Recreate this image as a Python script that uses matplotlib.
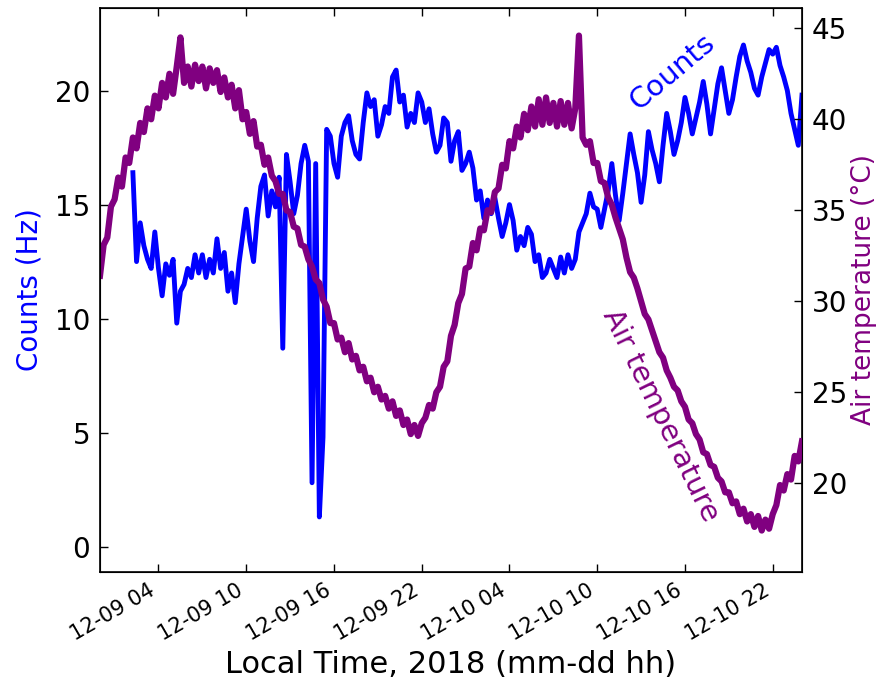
import numpy as np
import pandas as pd
import matplotlib.pyplot as plt
import matplotlib.dates as mdates

# quarter-hour samples starting 2018-12-09 00:00 local time
t0 = pd.Timestamp('2018-12-09 00:00')
step_h = 0.25

# air temperature (deg C), 4 values per hour
temp = [
    31.4, 33.1, 33.5, 35.2,
    35.6, 36.8, 36.3, 37.9,
    37.6, 39.0, 38.4, 39.8,
    39.3, 40.6, 40.0, 41.3,
    40.6, 42.0, 41.2, 42.5,
    41.4, 42.9, 44.5, 42.0,
    42.9, 41.8, 43.0, 42.1,
    42.9, 41.7, 42.8, 42.0,
    42.7, 41.5, 42.3, 41.2,
    41.9, 40.6, 41.6, 40.0,
    40.4, 39.2, 39.9, 38.5,
    38.6, 37.5, 37.9, 36.9,
    36.6, 35.9, 35.9, 35.0,
    34.9, 34.1, 34.0, 33.1,
    33.0, 32.3, 31.9, 31.2,
    31.0, 30.1, 29.7, 28.8,
    28.8, 27.9, 28.0, 27.2,
    27.7, 26.8, 27.0, 26.2,
    26.4, 25.6, 25.8, 25.0,
    25.3, 24.6, 24.8, 24.1,
    24.5, 23.7, 24.0, 23.2,
    23.5, 22.7, 23.2, 22.6,
    23.3, 23.6, 24.3, 24.1,
    25.0, 25.3, 26.4, 26.7,
    28.1, 28.7, 29.9, 30.4,
    31.8, 31.9, 33.2, 32.8,
    34.0, 33.9, 35.0, 34.9,
    36.0, 36.2, 37.5, 37.3,
    38.8, 38.4, 39.6, 39.0,
    40.3, 39.4, 40.7, 39.6,
    41.1, 39.7, 41.2, 39.8,
    40.9, 39.6, 41.0, 39.7,
    40.9, 39.5, 40.6, 44.6,
    39.0, 38.6, 38.8, 37.6,
    37.6, 36.6, 36.5, 35.7,
    35.3, 34.6, 34.0, 33.4,
    32.4, 31.6, 31.3, 30.7,
    30.0, 29.3, 29.0, 28.4,
    27.8, 27.2, 26.9, 26.2,
    25.8, 25.3, 25.1, 24.5,
    24.2, 23.5, 23.3, 22.7,
    22.4, 21.7, 21.6, 21.0,
    20.9, 20.3, 20.1, 19.5,
    19.5, 18.9, 19.0, 18.3,
    18.6, 17.9, 18.3, 17.6,
    18.2, 17.4, 18.0, 17.5,
    18.3, 18.8, 19.9, 19.6,
    20.5, 20.2, 21.5, 21.2,
    22.3,
]

# detector counts (Hz), logging starts at 02:15
counts_start_h = 2.25
counts = [
    16.4, 12.5, 14.2,
    13.2, 12.6, 12.2, 13.8,
    12.2, 11.0, 12.4, 11.9,
    12.6, 9.8, 11.2, 11.5,
    12.2, 11.8, 12.8, 12.0,
    12.8, 11.8, 12.6, 12.0,
    13.5, 12.2, 12.9, 11.2,
    12.0, 10.7, 12.4, 13.6,
    14.8, 13.4, 12.5, 14.4,
    15.8, 16.3, 14.5, 15.6,
    14.9, 16.2, 8.7, 17.2,
    16.0, 14.6, 15.4, 16.8,
    17.6, 16.9, 2.8, 16.8,
    1.3, 4.8, 18.3, 18.0,
    16.8, 16.2, 18.0, 18.6,
    18.9, 17.8, 17.2, 17.0,
    18.6, 19.9, 19.3, 19.6,
    18.0, 18.5, 19.3, 19.0,
    20.6, 20.9, 19.5, 19.8,
    18.4, 19.0, 18.6, 19.9,
    19.5, 18.6, 19.2, 18.1,
    17.3, 17.6, 18.8, 18.6,
    16.9, 17.8, 18.2, 16.5,
    16.8, 17.3, 16.6, 15.2,
    15.6, 14.4, 15.2, 14.6,
    15.3, 14.4, 13.6, 14.2,
    15.0, 14.3, 13.0, 13.6,
    13.2, 14.0, 13.7, 12.5,
    12.8, 11.8, 12.0, 12.6,
    12.2, 11.8, 12.7, 12.0,
    12.8, 12.2, 12.6, 13.8,
    14.2, 14.6, 15.5, 14.9,
    14.8, 14.0, 14.8, 15.6,
    16.8, 15.4, 14.3, 15.5,
    16.8, 18.1, 17.2, 16.4,
    15.1, 16.3, 18.2, 17.4,
    16.8, 16.0, 17.6, 19.0,
    18.2, 17.2, 17.8, 18.6,
    19.7, 19.0, 18.1, 18.8,
    19.5, 20.4, 19.4, 18.1,
    19.2, 20.3, 21.0, 20.0,
    19.0, 19.6, 20.6, 21.5,
    22.0, 21.3, 20.8, 20.1,
    19.8, 20.6, 21.2, 21.8,
    21.6, 21.9, 21.1, 20.6,
    20.0, 19.0, 18.3, 17.6,
    19.8,
]

t_temp = t0 + pd.to_timedelta(np.arange(len(temp)) * step_h, unit='h')
t_counts = t0 + pd.to_timedelta(counts_start_h + np.arange(len(counts)) * step_h, unit='h')

plt.rcParams['font.family'] = 'DejaVu Sans'

fig = plt.figure(figsize=(8.84, 6.91), dpi=100)
ax = fig.add_axes([0.1131, 0.1727, 0.7941, 0.8153])
ax2 = ax.twinx()

ax.plot(t_counts, counts, color='blue', lw=3.5)
ax2.plot(t_temp, temp, color='purple', lw=4.5)

ax.set_xlim(t0, t0 + pd.Timedelta(hours=48))
ax.set_ylim(-1.1, 23.61)
ax2.set_ylim(15.14, 46.1)
ax.set_yticks([0, 5, 10, 15, 20])
ax2.set_yticks([20, 25, 30, 35, 40, 45])

ax.xaxis.set_major_locator(mdates.HourLocator(byhour=[4, 10, 16, 22]))
ax.xaxis.set_major_formatter(mdates.DateFormatter('%m-%d %H'))

ax.tick_params(axis='x', direction='in', top=True, length=6, width=1,
               labelsize=15, pad=6)
ax.tick_params(axis='y', direction='in', length=6, width=1, labelsize=20, pad=7)
ax2.tick_params(axis='y', direction='in', length=6, width=1, labelsize=20, pad=7)
for lab in ax.get_xticklabels():
    lab.set_rotation(30)
    lab.set_ha('right')

for sp in ax.spines.values():
    sp.set_linewidth(1.2)

ax.set_xlabel('Local Time, 2018 (mm-dd hh)', fontsize=22)
ax.set_ylabel('Counts (Hz)', color='blue', fontsize=20, labelpad=8)
ax2.set_ylabel('Air temperature (°C)', color='purple', fontsize=19, labelpad=3)

ax.text(t0 + pd.Timedelta(hours=39.1), 20.8, 'Counts', color='blue',
        fontsize=21, rotation=40, ha='center', va='center')
ax2.text(t0 + pd.Timedelta(hours=38.3), 23.75, 'Air temperature', color='purple',
         fontsize=21, rotation=-64, ha='center', va='center')

fig.savefig('out.png', dpi=100)
